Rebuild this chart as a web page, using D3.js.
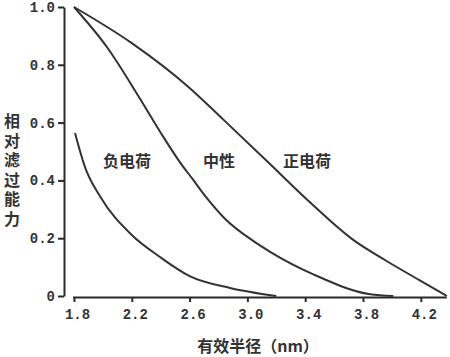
<!DOCTYPE html>
<html><head><meta charset="utf-8">
<script src="https://cdn.jsdelivr.net/npm/d3@7/dist/d3.min.js"></script>
<style>body{margin:0;background:#fff}svg{display:block}</style>
</head><body>
<svg id="c" width="450" height="357"></svg>
<script>
const xTicks = [1.8, 2.2, 2.6, 3.0, 3.4, 3.8, 4.2];
const xTickLabels = ["1.8", "2.2", "2.6", "3.0", "3.4", "3.8", "4.2"];
const yTicks = [0, 0.2, 0.4, 0.6, 0.8, 1.0];
const yTickLabels = ["0", "0.2", "0.4", "0.6", "0.8", "1.0"];
const seriesNames = ["正电荷", "中性", "负电荷"];
const positiveX = [1.80, 2.20, 2.60, 2.83, 3.16, 3.41, 3.73, 3.96, 4.19, 4.38];
const positiveY = [1.00, 0.875, 0.72, 0.612, 0.455, 0.335, 0.195, 0.122, 0.055, 0.0];
const neutralX = [1.80, 2.03, 2.26, 2.40, 2.53, 2.62, 2.71, 2.85, 3.03, 3.16, 3.46, 3.85, 4.01];
const neutralY = [1.00, 0.86, 0.68, 0.565, 0.465, 0.405, 0.345, 0.265, 0.194, 0.152, 0.074, 0.006, 0.0];
const negativeX = [1.807, 1.876, 1.98, 2.20, 2.395, 2.60, 2.88, 3.20];
const negativeY = [0.564, 0.446, 0.345, 0.211, 0.135, 0.069, 0.028, 0.0];
const xTitle = "有效半径（nm）";
const yTitle = "相对滤过能力";

const svg = d3.select("#c");
const x = d3.scaleLinear().domain([1.8, 4.2]).range([74, 420.8]);
const y = d3.scaleLinear().domain([0, 1]).range([296, 7]);
const ink = "#2a2a2a";
const numFont = "'Liberation Mono', 'DejaVu Sans Mono', monospace";
const cjk = "'Noto Sans CJK SC', sans-serif";

// X axis
const xAxis = d3.axisBottom(x).tickValues(xTicks).tickSize(5).tickSizeOuter(0)
  .tickFormat((d, i) => xTickLabels[i]);
const gx = svg.append("g").attr("transform", "translate(0,297)").call(xAxis);
gx.select(".domain").attr("d", `M73,0.5H${x(4.38)}`);
gx.selectAll("path,line").attr("stroke", ink).attr("stroke-width", 2);
gx.selectAll("text").attr("font-family", numFont).attr("font-size", 14)
  .attr("font-weight", "bold").attr("fill", "#333")
  .attr("dy", "1.0em").attr("dx", 3);

// Y axis
const yAxis = d3.axisLeft(y).tickValues(yTicks).tickSize(6).tickSizeOuter(0)
  .tickFormat((d, i) => yTickLabels[i]);
const gy = svg.append("g").attr("transform", "translate(64,0)").call(yAxis);
gy.selectAll("path,line").attr("stroke", ink).attr("stroke-width", 2);
gy.selectAll("text").attr("font-family", numFont).attr("font-size", 14)
  .attr("font-weight", "bold").attr("fill", "#333")
  .attr("x", -9);

// Curves
const line = d3.line().x(d => x(d[0])).y(d => y(d[1])).curve(d3.curveMonotoneX);
const series = [
  d3.zip(positiveX, positiveY),
  d3.zip(neutralX, neutralY),
  d3.zip(negativeX, negativeY)
];
svg.selectAll("path.curve").data(series).join("path").attr("class", "curve")
  .attr("d", line).attr("fill", "none").attr("stroke", "#333").attr("stroke-width", 2);

// Series labels
const labelPos = [[307, 3.6], [219, 2.6], [127, 2.0]];
svg.selectAll("text.lab").data(seriesNames).join("text").attr("class", "lab")
  .attr("x", (d, i) => labelPos[i][0]).attr("y", 167)
  .attr("text-anchor", "middle").attr("font-family", cjk).attr("font-weight", "bold")
  .attr("font-size", 16).attr("fill", "#333").text(d => d);

// Y title (vertical, one text element)
svg.append("text").attr("x", 12).attr("y", 113)
  .attr("writing-mode", "vertical-rl").style("text-orientation", "upright")
  .attr("letter-spacing", 3.5)
  .attr("font-family", cjk).attr("font-weight", "bold")
  .attr("font-size", 16).attr("fill", "#333").text(yTitle);

// X title
svg.append("text").attr("x", 258).attr("y", 352).attr("text-anchor", "middle")
  .attr("font-family", cjk).attr("font-weight", "bold").attr("font-size", 16)
  .attr("fill", "#333").text(xTitle);
</script>
</body></html>
